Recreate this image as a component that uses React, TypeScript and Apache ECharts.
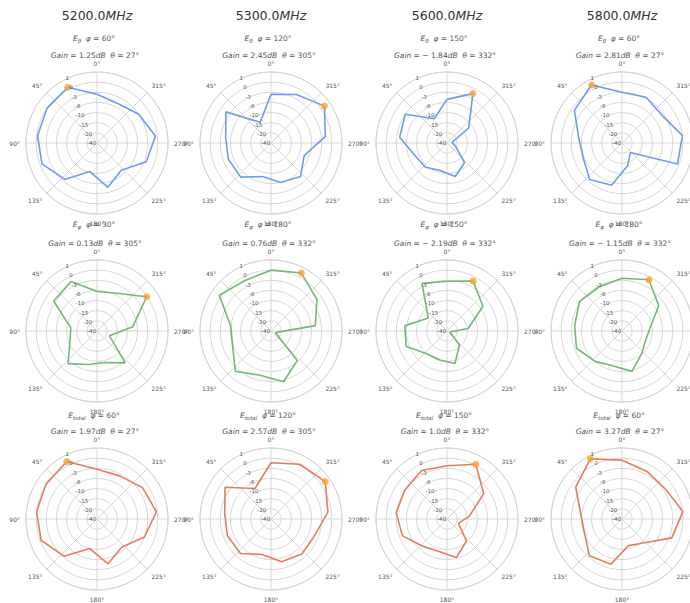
import React, { useEffect, useRef } from 'react';
import * as echarts from 'echarts';

// ---------- data ----------
const FREQS = ['5200.0', '5300.0', '5600.0', '5800.0'];
const FIELDS = ['θ', 'φ', 'total'];
const PHI = [
  [60, 120, 150, 60],
  [30, 180, 150, 180],
  [60, 120, 150, 60],
];
const GAIN = [
  ['1.25', '2.45', '− 1.84', '2.81'],
  ['0.13', '0.76', '− 2.19', '− 1.15'],
  ['1.97', '2.57', '1.0', '3.27'],
];
const THETA_PEAK = [
  [27, 305, 332, 27],
  [305, 332, 332, 332],
  [27, 305, 332, 27],
];
// sampled theta (deg)
const THETA = [0, 27.69, 55.38, 83.08, 110.77, 138.46, 166.15, 193.85, 221.54, 249.23, 276.92, 304.62, 332.31];
const ANGLE_TICKS_STEP = 45;
// radial tick labels, from centre (index 0) to the rim
const R_LABELS = ['-40', '-20', '-15', '-10', '-6', '-3', '0', '1'];

// radial positions (ring units)
const ETHETA_5200 = [4.8, 6.2, 6.0, 5.9, 5.8, 4.8, 2.9, 4.5, 3.6, 5.2, 5.8, 5.0, 4.4];
const ETHETA_5300 = [4.8, 2.3, 5.4, 4.5, 4.5, 4.5, 3.4, 4.0, 4.4, 3.5, 5.4, 6.4, 5.4];
const ETHETA_5600 = [4.3, 2.7, 5.0, 4.7, 3.4, 3.2, 2.8, 3.4, 2.6, 0.9, 0.5, 2.6, 5.5];
const ETHETA_5800 = [5.0, 6.45, 5.7, 4.3, 4.1, 4.8, 4.3, 2.3, 1.25, 5.85, 6.0, 4.8, 5.1];
const EPHI_5200 = [3.9, 5.5, 5.2, 2.6, 2.85, 4.3, 3.4, 3.2, 4.2, 1.3, 3.55, 5.95, 4.2];
const EPHI_5300 = [6.0, 5.6, 6.2, 4.0, 4.05, 5.3, 4.5, 5.15, 3.9, 0.45, 4.4, 5.5, 6.45];
const EPHI_5600 = [4.9, 5.3, 2.25, 4.2, 4.3, 3.0, 2.95, 3.3, 1.85, 0.3, 2.1, 4.3, 5.55];
const EPHI_5800 = [5.2, 4.9, 5.1, 4.7, 4.8, 4.0, 3.55, 4.1, 2.95, 2.5, 2.8, 4.4, 5.7];
const ETOTAL_5200 = [4.9, 6.4, 6.1, 6.0, 5.9, 4.9, 3.0, 4.55, 3.7, 5.0, 5.9, 5.45, 4.8];
const ETOTAL_5300 = [5.55, 3.4, 5.5, 4.6, 4.6, 4.55, 3.6, 4.35, 4.6, 4.6, 5.65, 6.5, 6.1];
const ETOTAL_5600 = [5.25, 5.4, 5.05, 5.05, 4.7, 3.6, 3.3, 3.9, 2.9, 1.2, 2.2, 4.4, 6.1];
const ETOTAL_5800 = [5.8, 6.7, 5.55, 4.1, 3.95, 4.85, 4.6, 2.7, 3.15, 5.25, 6.05, 5.2, 5.3];

const ROWS = [
  [ETHETA_5200, ETHETA_5300, ETHETA_5600, ETHETA_5800],
  [EPHI_5200, EPHI_5300, EPHI_5600, EPHI_5800],
  [ETOTAL_5200, ETOTAL_5300, ETOTAL_5600, ETOTAL_5800],
];

// ---------- layout & style ----------
const CX = [97, 271, 447, 622];
const CY = [143, 331, 519];
const RADIUS = 71;
const SUB1_Y = [38, 224, 415];
const SUB2_Y = [55, 243, 431];
const TITLE_Y = 15;
const LINE_COLORS = ['#6f9bee', '#74b874', '#e97a62'];
const PEAK_COLOR = '#f5a430';
const GRID_COLOR = '#d3d3d3';
const TEXT_COLOR = '#555';
const FONT = 'DejaVu Sans';

function buildOption() {
  const polar: any[] = [];
  const angleAxis: any[] = [];
  const radiusAxis: any[] = [];
  const series: any[] = [];
  const graphic: any[] = [];

  const n = 12;
  for (let row = 0; row < 3; row++) {
    for (let col = 0; col < 4; col++) {
      const i = row * 4 + col;
      const center = [CX[col], CY[row]];
      polar[i] = { center, radius: RADIUS };
      angleAxis[i] = {
        polarIndex: i,
        type: 'value',
        min: 0,
        max: 360,
        interval: ANGLE_TICKS_STEP,
        startAngle: 90,
        clockwise: false,
        axisLine: { show: true, lineStyle: { color: GRID_COLOR, width: 0.9 } },
        axisTick: { show: false },
        axisLabel: {
          show: true,
          formatter: (v: number) => `${v}°`,
          fontSize: 6,
          color: TEXT_COLOR,
          fontFamily: FONT,
          margin: 6,
        },
        splitLine: { show: true, lineStyle: { color: GRID_COLOR, width: 0.9 } },
      };
      radiusAxis[i] = {
        polarIndex: i,
        type: 'value',
        min: 0,
        max: 7,
        interval: 1,
        axisLine: { show: false },
        axisTick: { show: false },
        axisLabel: { show: false },
        splitLine: { show: true, lineStyle: { color: GRID_COLOR, width: 0.9 } },
      };
      polar[n + i] = { center, radius: RADIUS };
      angleAxis[n + i] = {
        polarIndex: n + i,
        type: 'value',
        min: 0,
        max: 360,
        startAngle: 112.5,
        show: false,
      };
      radiusAxis[n + i] = {
        polarIndex: n + i,
        type: 'value',
        min: 0,
        max: 7,
        interval: 1,
        z: 5,
        axisLine: { show: false },
        axisTick: { show: false },
        splitLine: { show: false },
        axisLabel: {
          show: true,
          fontSize: 5.5,
          color: TEXT_COLOR,
          fontFamily: FONT,
          margin: 1,
          formatter: (v: number) => R_LABELS[Math.round(v)] ?? '',
        },
      };

      const vals = ROWS[row][col];
      const data = vals.map((r, k) => [r, THETA[k]]);
      data.push([vals[0], 360]);
      series.push({
        type: 'line',
        coordinateSystem: 'polar',
        polarIndex: i,
        data,
        symbol: 'none',
        lineStyle: { color: LINE_COLORS[row], width: 1.6 },
        z: 3,
      });
      let best = 0;
      vals.forEach((v, k) => {
        if (v > vals[best]) best = k;
      });
      series.push({
        type: 'scatter',
        coordinateSystem: 'polar',
        polarIndex: i,
        data: [[vals[best], THETA[best]]],
        symbolSize: 7,
        itemStyle: { color: PEAK_COLOR },
        z: 4,
      });

      if (row === 0) {
        graphic.push({
          type: 'text',
          x: CX[col],
          y: TITLE_Y,
          style: {
            text: `{n|${FREQS[col]}}{u|MHz}`,
            align: 'center',
            verticalAlign: 'middle',
            rich: {
              n: { fontSize: 12.5, fontFamily: FONT, fill: '#333' },
              u: { fontSize: 12.5, fontFamily: FONT, fill: '#333', fontStyle: 'italic' },
            },
          },
        });
      }
      graphic.push({
        type: 'text',
        x: CX[col] - 3,
        y: SUB1_Y[row],
        style: {
          text: `{e|E}{s|${FIELDS[row]}}{t|  }{e|φ}{t| = ${PHI[row][col]}°}`,
          align: 'center',
          verticalAlign: 'middle',
          rich: {
            e: { fontSize: 7.5, fontFamily: FONT, fill: TEXT_COLOR, fontStyle: 'italic' },
            s: { fontSize: 5.5, fontFamily: FONT, fill: TEXT_COLOR, fontStyle: 'italic', padding: [5, 0, 0, 0] },
            t: { fontSize: 7.5, fontFamily: FONT, fill: TEXT_COLOR },
          },
        },
      });
      graphic.push({
        type: 'text',
        x: CX[col] - 2,
        y: SUB2_Y[row],
        style: {
          text: `{e|Gain}{t| = ${GAIN[row][col]}}{e|dB}{t|  }{e|θ}{t| = ${THETA_PEAK[row][col]}°}`,
          align: 'center',
          verticalAlign: 'middle',
          rich: {
            e: { fontSize: 7.5, fontFamily: FONT, fill: TEXT_COLOR, fontStyle: 'italic' },
            t: { fontSize: 7.5, fontFamily: FONT, fill: TEXT_COLOR },
          },
        },
      });
    }
  }

  return {
    animation: false,
    backgroundColor: '#ffffff',
    textStyle: { fontFamily: FONT },
    polar,
    angleAxis,
    radiusAxis,
    series,
    graphic,
  };
}

export default function App() {
  const ref = useRef<HTMLDivElement>(null);
  useEffect(() => {
    if (!ref.current) return;
    const chart = echarts.init(ref.current, undefined, { renderer: 'svg' });
    chart.setOption(buildOption());
    return () => chart.dispose();
  }, []);
  return (
    <div
      ref={ref}
      style={{ position: 'fixed', left: 0, top: 0, width: 690, height: 603, background: '#fff' }}
    />
  );
}
